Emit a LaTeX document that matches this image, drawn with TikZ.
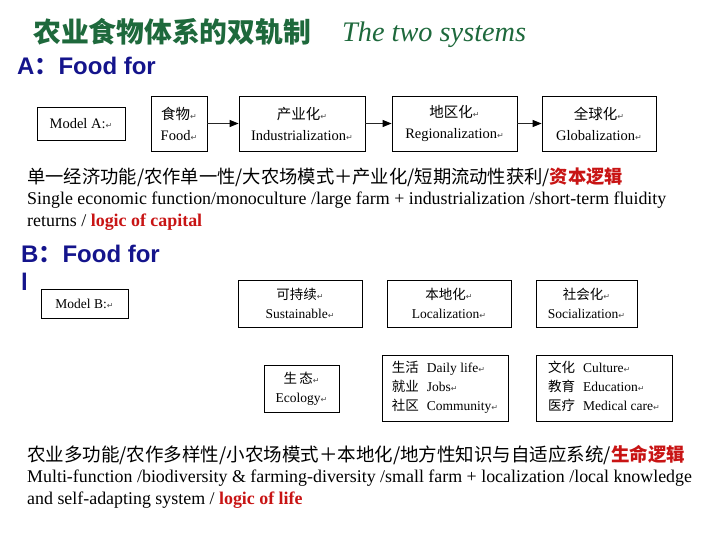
\documentclass[tikz,border=0pt]{standalone}
\usepackage{fontspec}
\setmainfont{Liberation Serif}
\newfontfamily\cjk{Noto Sans CJK SC}
\newfontfamily\arial{Liberation Sans}
\newfontfamily\dejavu{DejaVu Sans}
\usetikzlibrary{arrows.meta,positioning}

\definecolor{titlegreen}{RGB}{30,105,60}
\definecolor{headblue}{RGB}{20,20,140}
\definecolor{logicred}{RGB}{200,20,20}

\newcommand{\parmark}{{\dejavu\fontsize{8}{8}\selectfont\color{black!70}↵}}
\newcommand{\redlogic}[1]{{\color{logicred}\bfseries #1}}

\tikzset{
  modelbox/.style = {draw, line width=0.8pt, inner sep=0pt, align=center,
    font=\fontsize{14.5}{21}\selectfont},
  smallbox/.style = {modelbox, font=\fontsize{13.5}{19}\selectfont},
  flow/.style = {draw=black!85, line width=0.9pt,
    -{Triangle[length=9pt,width=7pt,color=black]}},
  head/.style = {anchor=base west, inner sep=0pt, align=left, text=headblue,
    font=\arial\bfseries\fontsize{24}{28}\selectfont},
  para/.style = {anchor=base west, inner sep=0pt, align=left,
    font=\fontsize{17.9}{21.5}\selectfont},
}

\begin{document}
\begin{tikzpicture}[x=1pt, y=-1pt]
  \useasboundingbox (0,0) rectangle (720,540);

  % title
  \node[anchor=base west, inner sep=0pt, text=titlegreen,
    font=\cjk\bfseries\fontsize{27.8}{28}\selectfont] (title) at (33,43) {农业食物体系的双轨制};
  \node[anchor=base west, inner sep=0pt, text=titlegreen,
    font=\itshape\fontsize{28.3}{28}\selectfont] (subtitle) at (342,42) {The two systems};

  % model A
  \node[head] (headA) at (17,75) {A{\cjk ：}Food for};

  \node[modelbox, minimum width=88pt, minimum height=33pt] (modelA) at (81,123.5) {Model A:\parmark};
  \node[modelbox, minimum width=56pt, minimum height=55pt] (food) at (179,123.5)
    {{\cjk 食物}\parmark\\Food\parmark};
  \node[modelbox, minimum width=126pt, minimum height=55pt] (indus) at (302,123.5)
    {{\cjk 产业化}\parmark\\Industrialization\parmark};
  \node[modelbox, minimum width=125pt, minimum height=55pt] (region) at (454.5,123.5)
    {{\cjk 地区化}\parmark\\Regionalization\parmark};
  \node[modelbox, minimum width=114pt, minimum height=55pt] (global) at (599,123.5)
    {{\cjk 全球化}\parmark\\Globalization\parmark};

  \draw[flow] (food) -- (indus);
  \draw[flow] (indus) -- (region);
  \draw[flow] (region) -- (global);

  % last line of the node sits on the given point
  \node[para] (textA) at (27,226)
    {{\cjk\fontsize{18.3}{21.5}\selectfont 单一经济功能/农作单一性/大农场模式＋产业化/短期流动性获利/\redlogic{资本逻辑}}\\
     Single economic function/monoculture /large farm + industrialization /short-term fluidity\\
     returns / \redlogic{logic of capital}};

  % model B
  \node[head] (headB) at (21,290) {B{\cjk ：}Food for\\l};

  \node[smallbox, minimum width=87pt, minimum height=29pt] (modelB) at (84.5,303.5) {Model B:\parmark};
  \node[smallbox, minimum width=124pt, minimum height=47pt] (sustain) at (300,303.5)
    {{\cjk 可持续}\parmark\\Sustainable\parmark};
  \node[smallbox, minimum width=124pt, minimum height=47pt] (local) at (449,303.5)
    {{\cjk 本地化}\parmark\\Localization\parmark};
  \node[smallbox, minimum width=101pt, minimum height=47pt] (social) at (586.5,303.5)
    {{\cjk 社会化}\parmark\\Socialization\parmark};

  \node[smallbox, minimum width=75pt, minimum height=47pt] (ecology) at (301.5,388.5)
    {{\cjk 生\,态}\parmark\\Ecology\parmark};
  \node[smallbox, minimum width=126pt, minimum height=66pt] (daily) at (445,388)
    {\begin{tabular}{@{}l@{\hspace{8pt}}l@{}}
      {\cjk 生活} & Daily life\parmark\\
      {\cjk 就业} & Jobs\parmark\\
      {\cjk 社区} & Community\parmark
     \end{tabular}};
  \node[smallbox, minimum width=136pt, minimum height=66pt] (culture) at (604,388)
    {\begin{tabular}{@{}l@{\hspace{8pt}}l@{}}
      {\cjk 文化} & Culture\parmark\\
      {\cjk 教育} & Education\parmark\\
      {\cjk 医疗} & Medical care\parmark
     \end{tabular}};

  \node[para] (textB) at (27,504)
    {{\cjk\fontsize{18.5}{21.5}\selectfont 农业多功能/农作多样性/小农场模式＋本地化/地方性知识与自适应系统/\redlogic{生命逻辑}}\\
     Multi-function /biodiversity \& farming-diversity /small farm + localization /local knowledge\\
     and self-adapting system / \redlogic{logic of life}};
\end{tikzpicture}
\end{document}
